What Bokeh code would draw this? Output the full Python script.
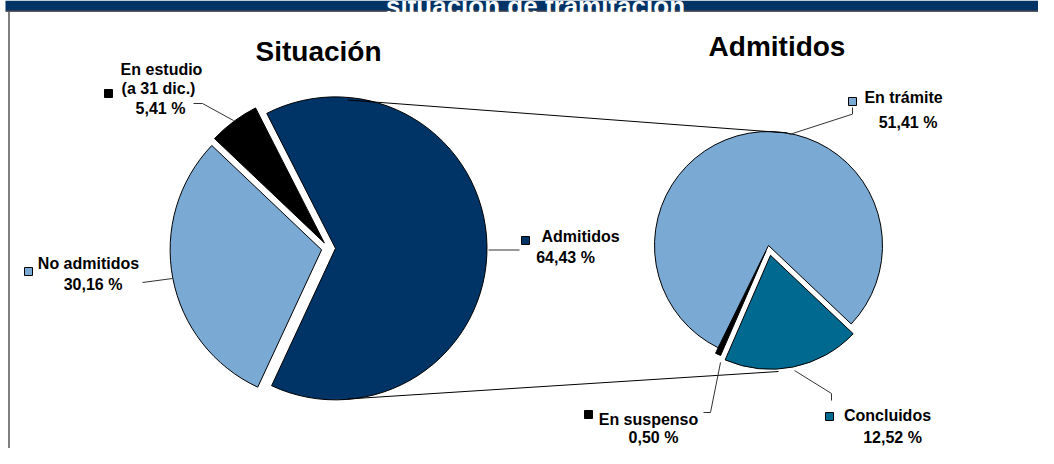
import math
from bokeh.plotting import figure
from bokeh.models import Range1d, ColumnDataSource
from bokeh.core.properties import value
from bokeh.embed import file_html
from bokeh.resources import INLINE

# ---------------- data ----------------
main_title = "situación de tramitación"
pie1_title = "Situación"
pie2_title = "Admitidos"

sit_categories = ["Admitidos", "No admitidos", "En estudio"]
sit_name_lines = [["Admitidos"], ["No admitidos"], ["En estudio", "(a 31 dic.)"]]
sit_values = [64.43, 30.16, 5.41]

adm_categories = ["Concluidos", "En suspenso", "En trámite"]
adm_name_lines = [["Concluidos"], ["En suspenso"], ["En trámite"]]
adm_values = [12.52, 0.50, 51.41]

# ---------------- styles / layout ----------------
NAVY = "#003366"
LIGHT = "#7AA9D4"
TEAL = "#006990"
BLACK = "#000000"
sit_colors = [NAVY, LIGHT, BLACK]
adm_colors = [TEAL, BLACK, LIGHT]

FONT = value("Liberation Sans")

W, H = 1038, 448


def fy(y):
    return -y


p = figure(width=W, height=H, output_backend="svg", toolbar_location=None,
           x_range=Range1d(0, W), y_range=Range1d(-H, 0),
           min_border=0, x_axis_location=None, y_axis_location=None,
           outline_line_color=None, background_fill_color="white",
           border_fill_color="white")
p.grid.visible = False


def fmt(v):
    return f"{v:.2f}".replace(".", ",") + " %"


def add_pie(values, colors, cx, cy, r, start_cw, explode):
    total = sum(values)
    theta = start_cw
    xs, ys, sa, ea = [], [], [], []
    for v, e in zip(values, explode):
        span = 360.0 * v / total
        t1, t2 = theta, theta + span
        tm = math.radians((t1 + t2) / 2)
        xs.append(cx + e * math.sin(tm))
        ys.append(fy(cy) + e * math.cos(tm))
        sa.append(math.radians(90 - t2))
        ea.append(math.radians(90 - t1))
        theta = t2
    src = ColumnDataSource(dict(x=xs, y=ys, sa=sa, ea=ea, color=colors))
    p.wedge(x="x", y="y", radius=r, start_angle="sa", end_angle="ea",
            fill_color="color", line_color="black", line_width=1, source=src)


# pies
add_pie(sit_values, sit_colors, 328, 248, 151.5, 333.0, [7, 7, 7])
adm_share = [v / sum(adm_values) * 100 for v in adm_values]
add_pie(adm_share, adm_colors, 768, 245, 114, 133.5, [10, 6, 0])

# connector lines between pies
p.line([347, 787], [fy(99.5), fy(132.5)], line_color="black", line_width=1)
p.line([347, 778], [fy(398.5), fy(371)], line_color="black", line_width=1)

# leader lines
leaders = [
    ([193, 202, 233], [103, 103, 120]),
    ([142, 172], [282, 278]),
    ([488, 519], [249.5, 249.5]),
    ([852, 852, 789], [107, 113.6, 134]),
    ([794, 831, 831], [370, 393, 400]),
    ([720, 710, 703], [362, 412, 412]),
]
for lx, ly in leaders:
    p.line(lx, [fy(v) for v in ly], line_color="#333333", line_width=1)

# label layout (name line positions, pct position, marker position)
sit_layout = [
    ([(580, 236)], (565, 257), (525, 240)),
    ([(88, 263)], (92.5, 284), (28, 271)),
    ([(161, 69), (158, 88)], (160, 108), (108, 93)),
]
adm_layout = [
    ([(887, 415)], (892, 437), (829, 416)),
    ([(648, 419)], (653, 437), (588, 414)),
    ([(903, 96.5)], (907.5, 121.5), (852, 101)),
]

tx, ty, tt = [], [], []
mx, my, mc = [], [], []
for names, vals, cols, layout in [(sit_name_lines, sit_values, sit_colors, sit_layout),
                                  (adm_name_lines, adm_values, adm_colors, adm_layout)]:
    for lines, v, c, (lpos, ppos, mpos) in zip(names, vals, cols, layout):
        for line, (x, y) in zip(lines, lpos):
            tx.append(x); ty.append(fy(y)); tt.append(line)
        tx.append(ppos[0]); ty.append(fy(ppos[1])); tt.append(fmt(v))
        mx.append(mpos[0]); my.append(fy(mpos[1])); mc.append(c)

p.scatter(x=mx, y=my, marker="square", size=8, fill_color=mc,
          line_color="black", line_width=1)
p.text(x=tx, y=ty, text=tt, text_font=FONT, text_font_style="bold",
       text_font_size="16px", text_align="center", text_baseline="middle",
       text_color="black")

# pie titles
p.text(x=[318, 776.5], y=[fy(51), fy(46)], text=[pie1_title, pie2_title],
       text_font=FONT, text_font_style="bold", text_font_size="28px",
       text_align="center", text_baseline="middle", text_color="black")

# top band (title clipped at the top edge, as in the original) and left border
p.quad(left=5, right=W, top=fy(0), bottom=fy(10),
       fill_color=NAVY, line_color=None)
p.line([5, W], [fy(10.5), fy(10.5)], line_color="#1b2333", line_width=1.5)
p.text(x=[535], y=[fy(5)], text=[main_title], text_font=FONT,
       text_font_style="bold", text_font_size="26px", text_align="center",
       text_baseline="alphabetic", text_color="white")
p.line([8.5, 8.5], [fy(11), fy(H)], line_color="#555555", line_width=1.5)

open("out.html", "w").write(file_html(p, INLINE))
